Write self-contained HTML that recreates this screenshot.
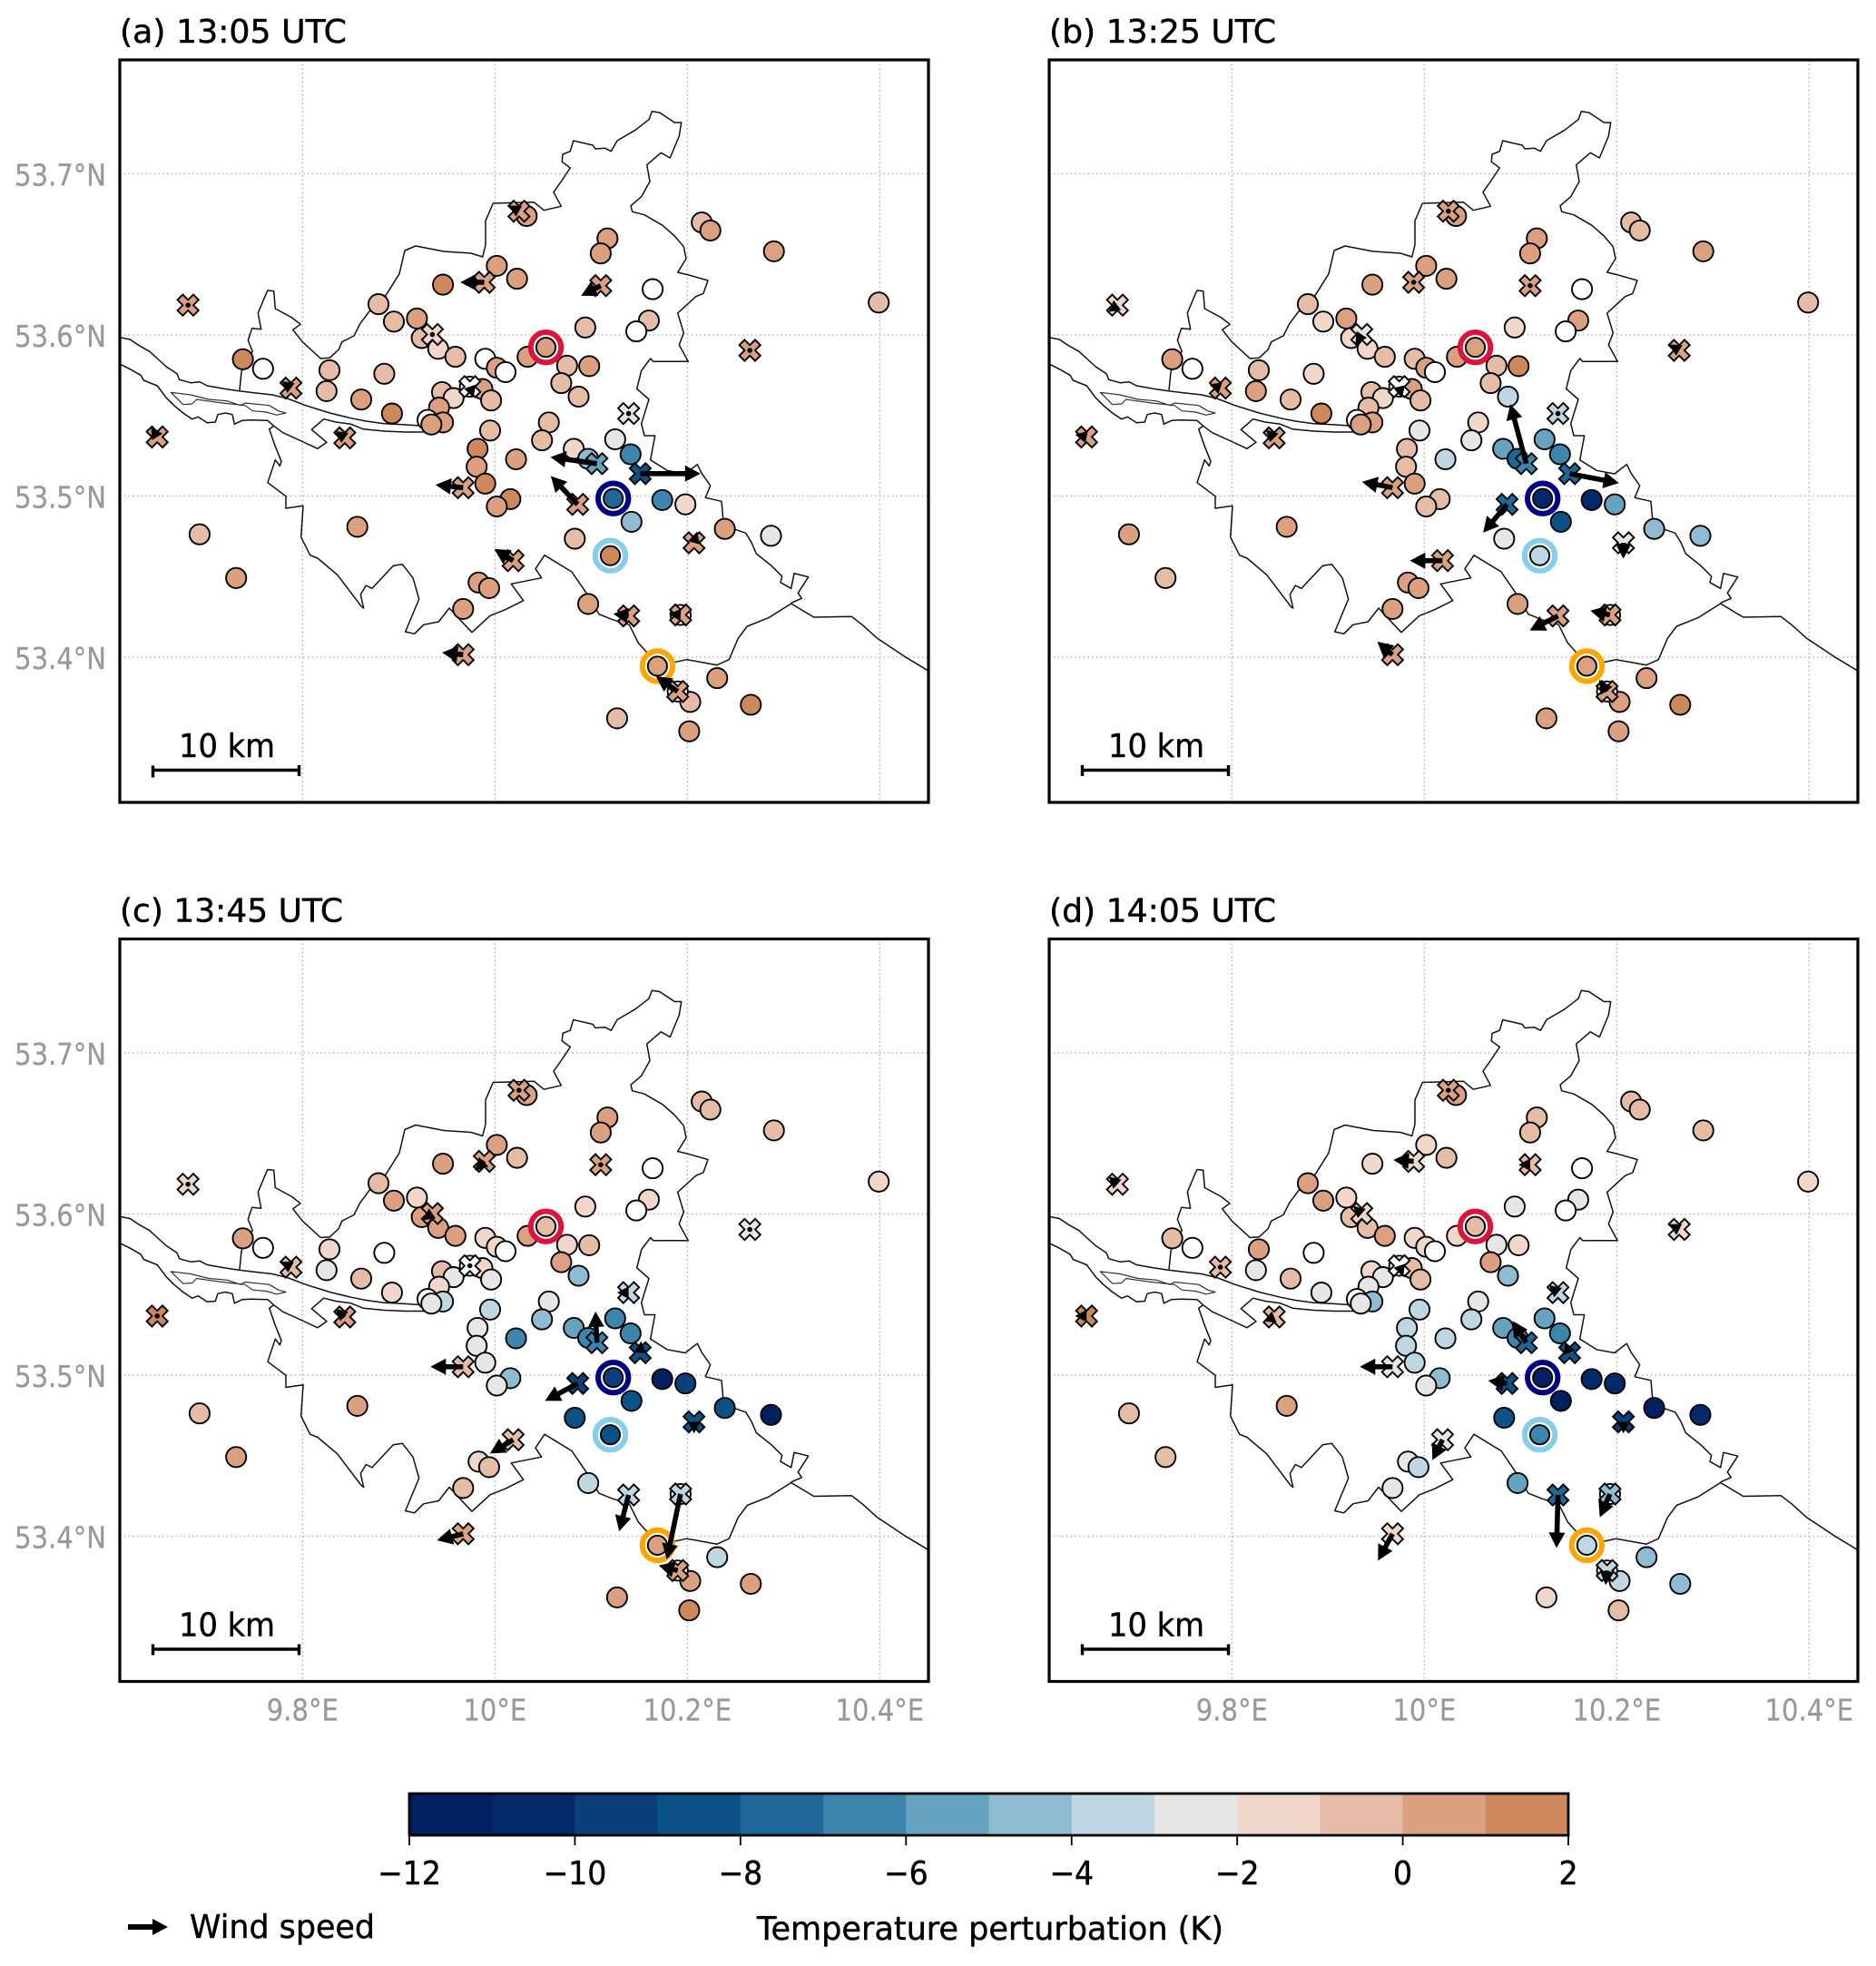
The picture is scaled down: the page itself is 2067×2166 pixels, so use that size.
<!DOCTYPE html>
<html lang="en">
<head>
<meta charset="utf-8">
<title>Temperature perturbation and wind maps</title>
<style>
html,body{margin:0;padding:0;background:#fff}
svg{display:block}
text{font-family:"DejaVu Sans","Liberation Sans",sans-serif;fill:#000;stroke:#000;stroke-width:.45}
.geo{fill:none;stroke:#111;stroke-width:1.5;stroke-linejoin:round}
</style>
</head>
<body>
<svg id="figure" xmlns="http://www.w3.org/2000/svg" width="2067" height="2166" viewBox="0 0 2067 2166">
<defs>
<clipPath id="map-clip"><rect x="132" y="66" width="891" height="818"/></clipPath>
<g id="geo-lines">
<path class="geo" d="M128,371 L143.3,374 153.3,380.7 165,387.3 173.3,395 183.3,404 195,411.7 197.7,418.3 210,421.7 220,420.7 228.3,425 246.7,428.3 263.3,430.7 280,432.7 300,435 316.7,439 336.7,446.7 363.3,455 386.7,460.7 403.3,464 423.3,466.7 443.3,467.7 463.3,469 476.7,468.3 476.7,476 446.7,476 423.3,475 400,472.7 386.7,467.3 370,465 356.7,461.7 343.3,473.3 360,487.3 350,494.3 330,485 311.7,476.7 301.7,469.3 295,463.3 276.7,462.7 266.7,463.3 258.3,467.3 256,456.7 248.3,455 240,456.7 237.3,465 228.3,465.7 218.3,459.3 211.7,461.7 201.7,455 191.7,446.7 183.3,438.3 173.3,425 158.3,419 155,413.3 143.3,406.7 133.3,401.7 128,400"/>
<path class="geo" style="stroke-width:1.2;stroke:#333" d="M188.3,432.3 L210,435 230,440 250,441.7 265,446.7 270,444 296.7,446.7 306.7,452.7 315,455 305,457.3 293.3,454 278.3,452.7 270,446.7 263.3,446 245,444 228.3,441.7 216.7,440 211.7,445 201.7,445.7 Z"/>
<path class="geo" d="M264,430 L266,410 267.3,406 270,396.7 278.3,387.3 273.3,375 277.7,361.7 287.7,362.7 284.3,345 293.3,323.3 295,320 301.7,320.7 303.3,340 321.7,350 331,357.3 322.7,363.3 333.3,376.7 353.3,395 363.3,394.3 373.3,385 376.7,376.7 390,370 396.7,356.7 406.7,343.3 423.3,328.3 440,301.7 446,276 458,271 489,277 519,279 531.7,283 535,270 535,243.3 543.3,224 588.3,222.7 599.3,231.7 618.3,227.3 610,211.7 618.3,200 628.3,185 619.3,178.3 620,170 628.3,166.7 631.7,155 653.3,160 656,164 666.7,163.3 673.3,166.7 680,155 700,143.3 715,131.7 718.3,122.7 726.7,124 743.3,135 750.7,135 748.3,150 738.3,174 728.3,168.3 712.7,181.7 716,200 706.7,216.7 695,226.7 696.7,233.3 710,236.7 730,248.3 743.3,260 753.3,271.7 756,285 746.7,300 760,303.3 780,309 775,323.3 766.7,326.7 746.7,345 753.3,366.7 748.3,380 758.3,398.3 720,398.3 716.7,395 706.7,408.3 701.7,428.3 715,440 706.7,466.7 710,480 721.7,480 718.3,498 716.7,506.7 735,518.3 755,522 768.3,511.7 773.3,521.7 782.7,535 777.3,548.3 795,552.3 796.7,571.7 810,583.3 821.7,587.3 828.3,598.3 833.3,610 850,623.3 861.7,635 860,641.7 871.7,648.3 875,631.7 890.7,635.7 879.3,653.3 883.3,659.3 871.7,664.3"/>
<path class="geo" d="M1026,741 L996.7,723.3 966.7,703.3 950,688.3 938.3,679.3 896.7,680 871.7,665 846.7,680.7 823.3,690 813.3,703.3 803.3,726.7 790,732.7 756.7,726.7 733.3,731.7 716.7,723.3 703.3,708.3 693.3,688.3 675,682.7 660,676.7 648.3,656.7 630,630 600,611.7 590,626.7 596.7,636.7 563.3,643.3 576.7,661.7 556.7,671.7 540,678.3 520,696.7 508,684 495,670 483.3,685 466.7,688.3 456.7,698.3 446.7,696 461.7,660 455,636.7 443.3,621.7 433.3,623.3 410,648.3 403.3,645 397.3,655 400.7,670 398.3,668.3 371.7,633.3 350,615 341.7,611.7 331.7,591.7 334,557.3 315,560 315,546.7 295,531.7 303.3,506.7 308.3,513.3 310,508.3 303.3,491.7 296.7,472.7 301.7,469.3"/>
</g>
</defs>

<g id="panel-a">
<text x="132" y="47" font-size="36" textLength="250" lengthAdjust="spacingAndGlyphs">(a) 13:05 UTC</text>
<g class="map" clip-path="url(#map-clip)"></g>
<rect x="132" y="66" width="891" height="818" fill="none" stroke="#000" stroke-width="3.2"/>
<text x="250" y="834" font-size="36" text-anchor="middle" textLength="106" lengthAdjust="spacingAndGlyphs">10 km</text>
<path d="M168.5,843.5V856.5M168.5,848.5H329.5M329.5,843V855" stroke="#000" stroke-width="3.4" fill="none"/>
</g>
<g id="panel-b" transform="translate(1024,0)">
<text x="132" y="47" font-size="36" textLength="250" lengthAdjust="spacingAndGlyphs">(b) 13:25 UTC</text>
<g class="map" clip-path="url(#map-clip)"></g>
<rect x="132" y="66" width="891" height="818" fill="none" stroke="#000" stroke-width="3.2"/>
<text x="250" y="834" font-size="36" text-anchor="middle" textLength="106" lengthAdjust="spacingAndGlyphs">10 km</text>
<path d="M168.5,843V855M168.5,848.5H329.5M329.5,843V855" stroke="#000" stroke-width="3.4" fill="none"/>
</g>
<g id="panel-c" transform="translate(0,968.5)">
<text x="132" y="47" font-size="36" textLength="246" lengthAdjust="spacingAndGlyphs">(c) 13:45 UTC</text>
<g class="map" clip-path="url(#map-clip)"></g>
<rect x="132" y="66" width="891" height="818" fill="none" stroke="#000" stroke-width="3.2"/>
<text x="250" y="834" font-size="36" text-anchor="middle" textLength="106" lengthAdjust="spacingAndGlyphs">10 km</text>
<path d="M168.5,843V855M168.5,848.5H329.5M329.5,843V855" stroke="#000" stroke-width="3.4" fill="none"/>
</g>
<g id="panel-d" transform="translate(1024,968.5)">
<text x="132" y="47" font-size="36" textLength="250" lengthAdjust="spacingAndGlyphs">(d) 14:05 UTC</text>
<g class="map" clip-path="url(#map-clip)"></g>
<rect x="132" y="66" width="891" height="818" fill="none" stroke="#000" stroke-width="3.2"/>
<text x="250" y="834" font-size="36" text-anchor="middle" textLength="106" lengthAdjust="spacingAndGlyphs">10 km</text>
<path d="M168.5,843V855M168.5,848.5H329.5M329.5,843V855" stroke="#000" stroke-width="3.4" fill="none"/>
</g>

<g id="colorbar"></g>
<text x="1091" y="2137" font-size="36" text-anchor="middle" textLength="514" lengthAdjust="spacingAndGlyphs">Temperature perturbation (K)</text>
<polygon points="141,2120 168,2120 168,2114 185,2123 168,2132 168,2126 141,2126" fill="#000"/>
<text x="209" y="2135" font-size="36" textLength="204" lengthAdjust="spacingAndGlyphs">Wind speed</text>
</svg>

<script>
// Tick labels
const latTicks = [53.4, 53.5, 53.6, 53.7];
const lonTicks = [9.8, 10.0, 10.2, 10.4];
const colorTicks = [-12, -10, -8, -6, -4, -2, 0, 2];
// Colour classes, 1 K each, from -12 K upward
const colorClasses = ['#00205f','#03296b','#0a3f7b','#0c5287','#1d6897','#3c85ad','#66a3c0','#8fbbd3','#bfd6e3','#e6e6e6','#f1d6ca','#e5bca5','#daa080','#cf885c'];

// Circle stations
const stationLon = [10.033,10.215,10.224,10.117,10.110,10.290,10.002,10.023,9.946,10.164,9.879,9.895,9.919,10.399,10.160,10.147,10.094,9.924,9.941,9.959,10.053,10.034,9.990,10.002,10.011,10.075,10.098,9.738,9.759,9.828,9.885,10.069,10.087,9.825,9.861,9.945,9.957,9.974,9.987,9.996,9.893,9.942,9.930,9.946,9.934,10.056,9.995,10.049,10.125,10.082,10.097,10.141,9.982,9.981,10.022,9.990,10.016,10.002,10.123,10.174,10.198,10.142,9.857,9.693,10.083,10.239,10.287,10.120,9.731,9.983,9.994,10.097,9.967,10.169,10.231,10.203,10.266,10.127,10.202,10.193,10.190];
const stationLat = [53.6738,53.6698,53.6648,53.6599,53.6506,53.6519,53.6429,53.6349,53.6312,53.6284,53.6191,53.6083,53.6102,53.6201,53.6089,53.6022,53.6046,53.5981,53.5914,53.5864,53.5923,53.5864,53.5852,53.5796,53.5769,53.5809,53.5806,53.5849,53.5790,53.5781,53.5759,53.5701,53.5617,53.5651,53.5599,53.5645,53.5608,53.5679,53.5664,53.5593,53.5512,53.5549,53.5472,53.5457,53.5444,53.5457,53.5407,53.5346,53.5352,53.5293,53.5231,53.5259,53.5293,53.5182,53.5228,53.5077,53.4981,53.4935,53.4985,53.4975,53.4948,53.4840,53.4809,53.4762,53.4735,53.4796,53.4753,53.4630,53.4491,53.4463,53.4429,53.4330,53.4299,53.3944,53.3870,53.3722,53.3704,53.3620,53.3540,53.4262,53.3787];
// Temperature perturbation (K) at circle stations; null = no reading (white)
const stationTempA = [.5,-.5,.5,.5,.5,.5,.5,.5,1.5,null,-.5,-.5,.5,-.5,-.5,null,-.5,-.5,-1.5,-.5,.5,.5,null,.5,null,-.5,.5,1.5,null,-.5,-.5,-.5,-.5,-.5,.5,-.5,-1.5,null,.5,-.5,1.5,.5,null,.5,.5,-.5,-.5,-.5,-2.5,-1.5,-4.5,-6.5,1.5,.5,.5,1.5,1.5,.5,-7.5,-6.5,-1.5,-4.5,.5,-.5,-.5,.5,-2.5,1.5,.5,.5,.5,.5,.5,.5,.5,-.5,1.5,-.5,.5,null,null];
const stationTempB = [.5,-.5,-.5,.5,.5,.5,.5,.5,.5,null,-.5,-1.5,.5,-.5,.5,null,-1.5,-1.5,-1.5,-.5,.5,.5,-.5,.5,null,-.5,1.5,.5,null,-.5,-1.5,-.5,-3.5,.5,-.5,-.5,-1.5,null,.5,-.5,1.5,-.5,null,.5,.5,-1.5,-2.5,-2.5,-5.5,-5.5,-7.5,-6.5,-.5,-.5,-3.5,.5,-.5,-.5,-10.5,-10.5,-5.5,-8.5,.5,.5,-2.5,-4.5,-4.5,-3.5,-.5,.5,.5,.5,.5,.5,.5,.5,1.5,.5,.5,null,null];
const stationTempC = [.5,-.5,-.5,.5,.5,-.5,.5,-.5,.5,null,-.5,.5,-1.5,-1.5,-1.5,null,-1.5,.5,.5,.5,-.5,.5,-1.5,-1.5,null,-1.5,-.5,.5,null,-1.5,null,.5,-4.5,-2.5,-.5,-.5,-2.5,null,-1.5,-2.5,-1.5,-1.5,null,-3.5,-2.5,-2.5,-3.5,-4.5,-6.5,-5.5,-6.5,-6.5,-2.5,-2.5,-6.5,-2.5,-4.5,-2.5,-9.5,-11.5,-9.5,-8.5,.5,-.5,-8.5,-8.5,-11.5,-8.5,.5,-1.5,-.5,-3.5,-.5,.5,-3.5,.5,.5,.5,1.5,null,null];
const stationTempD = [.5,-.5,-.5,-.5,-.5,-.5,-1.5,-.5,-1.5,null,.5,.5,-1.5,-1.5,-2.5,null,-2.5,-.5,-.5,.5,-.5,-1.5,-1.5,-1.5,null,-2.5,-1.5,-.5,null,.5,null,.5,-4.5,-2.5,-.5,-1.5,-2.5,null,-.5,-.5,-2.5,-2.5,null,-4.5,-2.5,-2.5,-3.5,-3.5,-5.5,-5.5,-6.5,-6.5,-3.5,-3.5,-3.5,-3.5,-4.5,-2.5,-11.5,-10.5,-10.5,-11.5,.5,-.5,-8.5,-11.5,-10.5,-6.5,-.5,-2.5,-3.5,-5.5,-2.5,-3.5,-4.5,-3.5,-4.5,-1.5,-.5,null,null];

// Cross stations
const crossLon = [10.025,9.989,10.110,9.681,9.935,10.265,9.974,9.788,9.649,9.844,10.139,10.106,10.151,9.967,10.086,10.207,10.019,10.139,10.193,9.967,10.190];
const crossLat = [53.6768,53.6327,53.6306,53.6185,53.6003,53.5904,53.5679,53.5670,53.5367,53.5361,53.5512,53.5201,53.5139,53.5052,53.4948,53.4710,53.4599,53.4256,53.4262,53.4015,53.3787];
const crossTempA = [.5,.5,.5,.5,-1.5,.5,null,.5,.5,.5,-2.5,-5.5,-8.5,.5,.5,.5,.5,.5,.5,.5,.5];
const crossTempB = [.5,.5,.5,-1.5,-2.5,.5,null,.5,.5,.5,-3.5,-6.5,-7.5,.5,-7.5,-2.5,.5,.5,.5,.5,.5];
const crossTempC = [.5,.5,.5,-1.5,.5,-2.5,null,-.5,1.5,.5,-3.5,-6.5,-8.5,-.5,-9.5,-8.5,-.5,-3.5,-3.5,.5,.5];
const crossTempD = [.5,-1.5,-.5,-1.5,-1.5,-1.5,null,-.5,1.5,-.5,-3.5,-7.5,-8.5,-2.5,-8.5,-9.5,-2.5,-7.5,-4.5,-1.5,-3.5];
// Wind components (eastward, northward) at cross stations
const windUA = [-.9,-3.3,-2.7,0,0,0,.1,-.4,-.5,-.7,0,-6.4,8.3,-3.8,-3.7,.4,-2.6,-2.1,-1.4,-2.9,-3];
const windVA = [.5,0,-1.4,0,0,0,-.3,.3,.8,.5,0,.9,0,.4,3.9,1.5,1.6,.3,.1,.3,2.1];
const windUB = [0,0,0,-.4,-.2,-.5,.2,-.9,-1,-.4,0,-2.2,6.8,-4.2,-3.3,0,-4.5,-3.9,-2.7,-2.1,-1.1];
const windVB = [0,0,0,-.3,-.3,.3,-.9,.3,.2,.4,0,8.2,-1.3,.8,-3.9,-2.2,0,-2,.6,1.8,1.6];
const windUC = [0,-1.3,0,0,-1.3,0,0,-1.3,0,-1.3,-.4,-.2,.1,-4.5,-4.5,0,-3.2,-1.3,-1.9,-3.6,-2.6];
const windVC = [0,-1.3,0,0,-.9,0,0,.7,0,1.1,0,4.3,1.2,0,-2.4,-1.4,-1.9,-5,-9,-.9,.7];
const windUD = [0,-2.8,-.6,-.8,-.8,-1.4,.5,0,-1.5,-.7,-.6,-1.9,-.4,-4.5,-2.6,0,-1.4,-.2,-1.4,-2,-.2];
const windVD = [0,.2,0,.7,.7,.7,-1.4,0,0,-.3,.5,3,1,0,.4,-.9,-2.8,-7.3,-3.2,-3.7,-2];

// Highlighted stations (index into station arrays) and their ring colours
const ringStations = [20, 58, 67, 73];
const ringColors = ['#dc143c', '#000080', '#87ceeb', '#ffa500'];

const panelIds = ['panel-a', 'panel-b', 'panel-c', 'panel-d'];
const panelStationTemps = [stationTempA, stationTempB, stationTempC, stationTempD];
const panelCrossTemps = [crossTempA, crossTempB, crossTempC, crossTempD];
const panelWindU = [windUA, windUB, windUC, windUD];
const panelWindV = [windVA, windVB, windVC, windVD];

const SVG_NS = 'http://www.w3.org/2000/svg';
function xScale(lon) { return 545.3 + (lon - 10) * 1060; }
function yScale(lat) { return 546.5 - (lat - 53.5) * 1775; }
function cbScale(v) { return 451 + (v + 12) * (1728 - 451) / 14; }
function colorFor(t) {
  if (t === null) return '#ffffff';
  const i = Math.floor(t + 12);
  return colorClasses[Math.max(0, Math.min(colorClasses.length - 1, i))];
}
function make(tag, parent) {
  const el = document.createElementNS(SVG_NS, tag);
  parent.appendChild(el);
  return el;
}
function squeeze(t, f) {
  t.setAttribute('lengthAdjust', 'spacingAndGlyphs');
  t.setAttribute('textLength', (t.getComputedTextLength() * f).toFixed(1));
}
function crossPoints(cx, cy) {
  const a = 5.8;
  const shape = [[-1,-2],[0,-1],[1,-2],[2,-1],[1,0],[2,1],[1,2],[0,1],[-1,2],[-2,1],[-1,0],[-2,-1]];
  return shape.map(function (p) { return (cx + p[0] * a).toFixed(1) + ',' + (cy + p[1] * a).toFixed(1); }).join(' ');
}
function arrowPoints(x, y, u, v) {
  const k = 8;
  const dx = u * k;
  const dy = -v * k;
  const L = Math.sqrt(dx * dx + dy * dy);
  const s = Math.max(0.75, Math.min(1, L / 18));
  const len = Math.max(L, 17 * s);
  const ux = dx / L;
  const uy = dy / L;
  const nx = -uy;
  const ny = ux;
  const hw = 9 * s;
  const sw = 2.8 * s;
  const hl = 17 * s;
  const pts = [];
  function add(a, b) { pts.push((x + ux * a + nx * b).toFixed(1) + ',' + (y + uy * a + ny * b).toFixed(1)); }
  if (len > hl + 0.5) {
    add(0, -sw); add(len - hl, -sw); add(len - hl, -hw); add(len, 0); add(len - hl, hw); add(len - hl, sw); add(0, sw);
  } else {
    add(len - hl, -hw); add(len, 0); add(len - hl, hw);
  }
  return pts.join(' ');
}

panelIds.forEach(function (id, p) {
  const panel = document.getElementById(id);
  const map = panel.querySelector('.map');

  latTicks.forEach(function (lat) {
    const g = make('line', map);
    
    
    g.setAttribute('x1', 132); g.setAttribute('x2', 1023);
    g.setAttribute('y1', yScale(lat)); g.setAttribute('y2', yScale(lat));
    g.setAttribute('stroke', '#bbbbbb'); g.setAttribute('stroke-width', 1.6);
    g.setAttribute('stroke-dasharray', '1.7 3');
  });
  lonTicks.forEach(function (lon) {
    const g = make('line', map);
    
    
    g.setAttribute('y1', 66); g.setAttribute('y2', 884);
    g.setAttribute('x1', xScale(lon)); g.setAttribute('x2', xScale(lon));
    g.setAttribute('stroke', '#bbbbbb'); g.setAttribute('stroke-width', 1.6);
    g.setAttribute('stroke-dasharray', '1.7 3');
  });

  const geo = make('use', map);
  geo.setAttribute('href', '#geo-lines');
  
  

  stationLon.forEach(function (lon, i) {
    if (ringStations.indexOf(i) >= 0) return;
    const c = make('circle', map);
    
    
    c.setAttribute('cx', xScale(lon).toFixed(1));
    c.setAttribute('cy', yScale(stationLat[i]).toFixed(1));
    c.setAttribute('r', 11.1);
    c.setAttribute('fill', colorFor(panelStationTemps[p][i]));
    c.setAttribute('stroke', '#000');
    c.setAttribute('stroke-width', 1.9);
  });

  // Boundary line stays visible over the circle fill near the edge stations
  ringStations.forEach(function (idx, r) {
    const cx = xScale(stationLon[idx]);
    const cy = yScale(stationLat[idx]);
    const ring = make('circle', map);
    
    
    ring.setAttribute('cx', cx.toFixed(1));
    ring.setAttribute('cy', cy.toFixed(1));
    ring.setAttribute('r', 16.7);
    ring.setAttribute('fill', '#fff');
    ring.setAttribute('stroke', ringColors[r]);
    ring.setAttribute('stroke-width', 6);
    const c = make('circle', map);
    
    
    c.setAttribute('cx', cx.toFixed(1));
    c.setAttribute('cy', cy.toFixed(1));
    c.setAttribute('r', 10.6);
    c.setAttribute('fill', colorFor(panelStationTemps[p][idx]));
    c.setAttribute('stroke', '#000');
    c.setAttribute('stroke-width', 1.9);
  });

  crossLon.forEach(function (lon, i) {
    const m = make('polygon', map);
    
    
    m.setAttribute('points', crossPoints(xScale(lon), yScale(crossLat[i])));
    m.setAttribute('fill', colorFor(panelCrossTemps[p][i]));
    m.setAttribute('stroke', '#000');
    m.setAttribute('stroke-width', 1.9);
    m.setAttribute('stroke-linejoin', 'miter');
  });

  crossLon.forEach(function (lon, i) {
    const u = panelWindU[p][i];
    const v = panelWindV[p][i];
    const x = xScale(lon);
    const y = yScale(crossLat[i]);
    if (u === 0 && v === 0) {
      const d = make('circle', map);
      
      
      d.setAttribute('cx', x.toFixed(1));
      d.setAttribute('cy', y.toFixed(1));
      d.setAttribute('r', 2.8);
      d.setAttribute('fill', '#000');
    } else {
      const a = make('polygon', map);
      
      
      a.setAttribute('points', arrowPoints(x, y, u, v));
      a.setAttribute('fill', '#000');
    }
  });

  if (p % 2 === 0) {
    latTicks.forEach(function (lat) {
      const t = make('text', panel);
      
      
      t.setAttribute('x', 117);
      t.setAttribute('y', (yScale(lat) + 13).toFixed(1));
      t.setAttribute('font-size', 33);
      t.setAttribute('text-anchor', 'end');
      t.setAttribute('style', 'fill:#999;stroke:#999;stroke-width:.3');
      t.textContent = lat.toFixed(1) + '\u00b0N';
      squeeze(t, 0.88);
    });
  }
  if (p >= 2) {
    lonTicks.forEach(function (lon) {
      const t = make('text', panel);
      
      
      t.setAttribute('x', xScale(lon).toFixed(1));
      t.setAttribute('y', 927);
      t.setAttribute('font-size', 33);
      t.setAttribute('text-anchor', 'middle');
      t.setAttribute('style', 'fill:#999;stroke:#999;stroke-width:.3');
      t.textContent = (lon === 10 ? '10' : lon.toFixed(1)) + '\u00b0E';
      squeeze(t, 0.88);
    });
  }
});

const cb = document.getElementById('colorbar');
colorClasses.forEach(function (col, i) {
  const r = make('rect', cb);
  
  
  r.setAttribute('x', cbScale(-12 + i).toFixed(1));
  r.setAttribute('y', 1976);
  r.setAttribute('width', (cbScale(-11 + i) - cbScale(-12 + i) + 0.5).toFixed(1));
  r.setAttribute('height', 46);
  r.setAttribute('fill', col);
});
const cbFrame = make('rect', cb);


cbFrame.setAttribute('x', cbScale(-12));
cbFrame.setAttribute('y', 1976);
cbFrame.setAttribute('width', cbScale(2) - cbScale(-12));
cbFrame.setAttribute('height', 46);
cbFrame.setAttribute('fill', 'none');
cbFrame.setAttribute('stroke', '#000');
cbFrame.setAttribute('stroke-width', 2.8);
colorTicks.forEach(function (v) {
  const tick = make('line', cb);
  
  
  tick.setAttribute('x1', cbScale(v)); tick.setAttribute('x2', cbScale(v));
  tick.setAttribute('y1', 2022); tick.setAttribute('y2', 2033);
  tick.setAttribute('stroke', '#000'); tick.setAttribute('stroke-width', 1.8);
  const t = make('text', cb);
  
  
  t.setAttribute('x', cbScale(v));
  t.setAttribute('y', 2076);
  t.setAttribute('font-size', 36);
  t.setAttribute('text-anchor', 'middle');
  t.textContent = (v < 0 ? '\u2212' : '') + Math.abs(v);
  squeeze(t, 0.92);
});
</script>
</body>
</html>
